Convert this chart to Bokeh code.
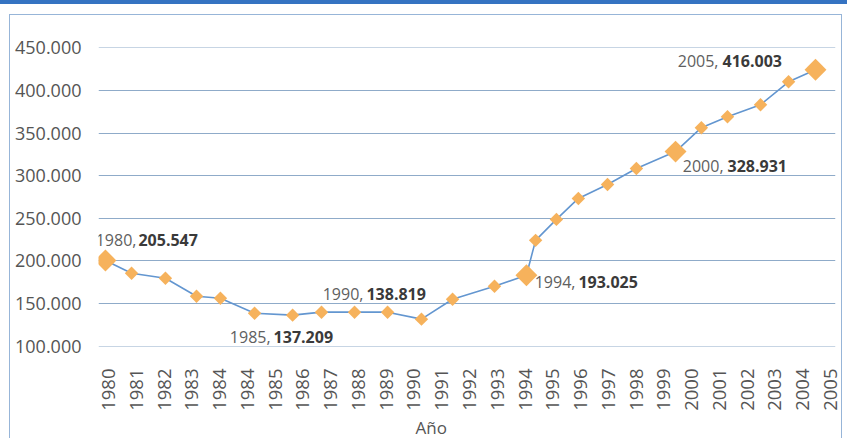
import math
from bokeh.plotting import figure
from bokeh.models import Range1d, FixedTicker, ColumnDataSource, Title, Div
from bokeh.layouts import column
from bokeh.core.properties import value
from bokeh.embed import file_html
from bokeh.resources import INLINE

# ---------------- data ----------------
x_tick_labels = ["1980", "1981", "1982", "1983", "1984", "1984", "1985", "1986",
                 "1987", "1988", "1989", "1990", "1991", "1992", "1993", "1994",
                 "1995", "1996", "1997", "1998", "1999", "2000", "2001", "2002",
                 "2003", "2004", "2005"]
# point positions along the category axis (tick index units) as drawn
point_pos = [-0.11, 0.83, 2.05, 3.17, 4.03, 5.26, 6.63, 7.67, 8.86, 10.05,
             11.27, 12.39, 13.90, 15.05, 15.38, 16.13, 16.92, 17.97, 19.01,
             20.42, 21.35, 22.29, 23.48, 24.49, 25.46]
values = [200500, 185500, 179600, 158500, 156200, 138600, 136300, 139800,
          139800, 139800, 131600, 155000, 170200, 183100, 224100, 248700,
          273300, 289600, 308400, 328300, 356400, 369300, 383300, 410200,
          424300]
highlight_idx = [0, 13, 19, 24]
y_ticks = [100000, 150000, 200000, 250000, 300000, 350000, 400000, 450000]
y_tick_labels = ["100.000", "150.000", "200.000", "250.000", "300.000",
                 "350.000", "400.000", "450.000"]
# annotations: point index, year part, value part
ann_idx = [0, 6, 10, 13, 19, 24]
ann_year = ["1980,", "1985,", "1990,", "1994,", "2000,", "2005,"]
ann_value = ["205.547", "137.209", "138.819", "193.025", "328.931", "416.003"]
x_axis_title = "Año"

# ---------------- styling / placement ----------------
ann_year_dx = [31, -22, -58, 49, 48, -97]
ann_val_dx = [33, -19, -55, 52, 52, -93]
ann_dy = [-20, 22, -25, 7, 14, -9]

FONT = "Open Sans"
BORDER = "#97b5d8"

p = figure(width=833, height=424, output_backend="svg", toolbar_location=None,
           x_range=Range1d(-0.36, 26.18), y_range=Range1d(99500, 450500),
           min_border_left=88, min_border_right=8, min_border_top=32,
           min_border_bottom=93, margin=(10, 0, 0, 9),
           styles={"border-left": f"1px solid {BORDER}",
                   "border-top": f"1px solid {BORDER}",
                   "border-right": f"1px solid {BORDER}"})
p.outline_line_color = None
p.background_fill_color = "white"
p.border_fill_color = "white"

# grid
p.xgrid.visible = False
p.ygrid.grid_line_color = "#8fabc9"
p.ygrid.grid_line_width = 1
p.ygrid.ticker = FixedTicker(ticks=y_ticks)

# y axis
p.yaxis.ticker = FixedTicker(ticks=y_ticks)
p.yaxis.major_label_overrides = {t: l for t, l in zip(y_ticks, y_tick_labels)}
p.yaxis.axis_line_color = None
p.yaxis.major_tick_line_color = None
p.yaxis.minor_tick_line_color = None
p.yaxis.major_label_standoff = 11
p.yaxis.major_label_text_font = FONT
p.yaxis.major_label_text_font_size = "18px"
p.yaxis.major_label_text_color = "#555555"

# x axis
xt = list(range(len(x_tick_labels)))
p.xaxis.ticker = FixedTicker(ticks=xt)
p.xaxis.major_label_overrides = {t: l for t, l in zip(xt, x_tick_labels)}
p.xaxis.major_label_orientation = math.pi / 2
p.xaxis.axis_line_color = None
p.xaxis.major_tick_line_color = None
p.xaxis.minor_tick_line_color = None
p.xaxis.major_tick_out = 0
p.xaxis.major_tick_in = 0
p.xaxis.minor_tick_out = 0
p.xaxis.major_label_standoff = 22
p.xaxis.major_label_text_font = FONT
p.xaxis.major_label_text_font_size = "18.5px"
p.xaxis.major_label_text_color = "#555555"

# series
src = ColumnDataSource(dict(x=point_pos, y=values))
p.line("x", "y", source=src, line_color="#6396d0", line_width=1.6)
small = [i for i in range(len(values)) if i not in highlight_idx]
p.scatter([point_pos[i] for i in small], [values[i] for i in small],
          marker="square", angle=math.pi / 4, size=9.5,
          fill_color="#f6b25c", line_color=None)
p.scatter([point_pos[i] for i in highlight_idx], [values[i] for i in highlight_idx],
          marker="square", angle=math.pi / 4, size=15.5,
          fill_color="#f6b25c", line_color=None)

# annotations
ax = [point_pos[i] for i in ann_idx]
ay = [values[i] for i in ann_idx]
p.text(ax, ay, text=ann_year, x_offset=ann_year_dx, y_offset=ann_dy,
       text_align="right", text_baseline="middle",
       text_font=value(FONT), text_font_size="16px", text_color="#606060")
p.text(ax, ay, text=ann_value, x_offset=ann_val_dx, y_offset=ann_dy,
       text_align="left", text_baseline="middle",
       text_font=value(FONT), text_font_size="16px", text_font_style="bold",
       text_color="#3a3a3a")

# axis title (below the tick labels)
p.add_layout(Title(text=x_axis_title, align="left", offset=317, standoff=0,
                   text_font=FONT, text_font_size="17px",
                   text_font_style="normal", text_color="#555555"), "below")

band = Div(text="", width=847, height=4, margin=(0, 0, 0, 0),
           styles={"background-color": "#3573c2"})
root = column(band, p, spacing=0, margin=(0, 0, 0, 0))

open("out.html", "w").write(file_html(root, INLINE))
